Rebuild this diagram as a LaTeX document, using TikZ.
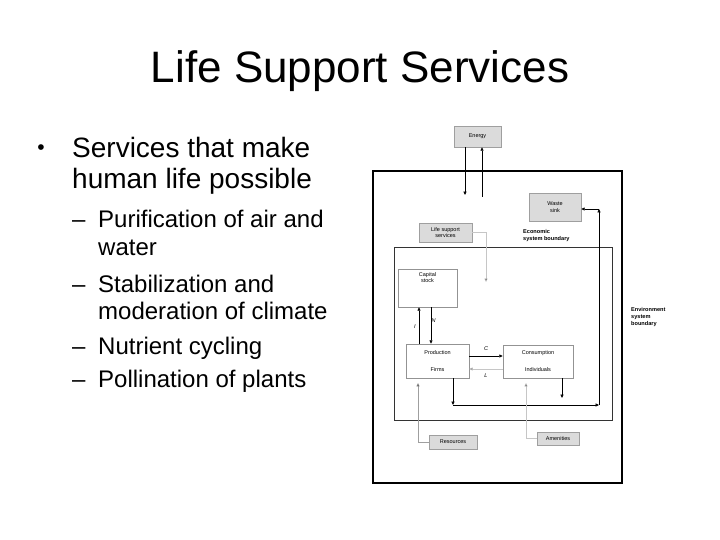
\documentclass[tikz,border=0pt]{standalone}
\usepackage{fontspec}
\setmainfont{Liberation Sans}
\usetikzlibrary{arrows.meta}
\tikzset{
  gbox/.style={draw=gray!75, line width=0.6pt, fill=gray!28, inner sep=0pt, font=\fontsize{5.5}{6.6}\selectfont, align=center},
  wbox/.style={draw=gray!85, line width=0.6pt, fill=white, inner sep=0pt},
  lbl/.style={font=\fontsize{5.5}{6.6}\selectfont, inner sep=0pt, align=center},
  conn/.style={line width=0.6pt, -{Triangle[length=3.4pt,width=3pt]}},
  lconn/.style={conn, draw=gray!45, -{Triangle[length=3.4pt,width=3pt,fill=black]}},
  mconn/.style={conn, draw=gray!75},
  lvlone/.style={anchor=base west, inner sep=0pt, font=\fontsize{28}{32}\selectfont},
  lvltwo/.style={anchor=base west, inner sep=0pt, font=\fontsize{24}{28}\selectfont},
}
\begin{document}
\begin{tikzpicture}[x=1pt, y=-1pt]
\useasboundingbox (0,0) rectangle (720,540);
\fill[white] (0,0) rectangle (720,540);

% title
\node[anchor=base, inner sep=0pt, font=\fontsize{44}{50}\selectfont] (title) at (360,83) {Life Support Services};

% bullets
\node[anchor=base, inner sep=0pt, font=\fontsize{21}{24}\selectfont] (b1) at (41,155) {•};
\node[lvlone] (t1a) at (72,158) {Services that make};
\node[lvlone] (t1b) at (72,189) {human life possible};
\node[lvltwo] (d1) at (72,227) {–};
\node[lvltwo] (s1a) at (98,227) {Purification of air and};
\node[lvltwo] (s1b) at (98,255) {water};
\node[lvltwo] (d2) at (72,292) {–};
\node[lvltwo] (s2a) at (98,292) {Stabilization and};
\node[lvltwo] (s2b) at (98,319) {moderation of climate};
\node[lvltwo] (d3) at (72,354) {–};
\node[lvltwo] (s3) at (98,354) {Nutrient cycling};
\node[lvltwo] (d4) at (72,387) {–};
\node[lvltwo] (s4) at (98,387) {Pollination of plants};

% boundaries
\draw[line width=1.3pt] (373,171) rectangle (622,483);
\draw[line width=0.8pt, black!80] (394,247) rectangle (612,420);

% boxes
\node[gbox, minimum width=47, minimum height=21] (energy) at (477.5,136.5) {Energy};
\node[gbox, minimum width=52, minimum height=28] (waste) at (555,207) {Waste\\sink};
\node[gbox, minimum width=53, minimum height=19] (life) at (445.5,232.5) {Life support\\services};
\node[gbox, minimum width=48, minimum height=14] (res) at (453,442) {Resources};
\node[gbox, minimum width=42, minimum height=13] (amen) at (558,438.5) {Amenities};

\node[wbox, minimum width=59, minimum height=38] (cap) at (427.5,288) {};
\node[lbl, anchor=north] (captxt) at (427.5,272) {Capital\\stock};
\node[wbox, minimum width=63, minimum height=34] (prod) at (437.5,361) {};
\node[lbl] (prodt) at (437.5,353) {Production};
\node[lbl] (firmt) at (437.5,370) {Firms};
\node[wbox, minimum width=70, minimum height=33] (cons) at (538,361.5) {};
\node[lbl] (const) at (538,353) {Consumption};
\node[lbl] (indt) at (538,370) {Individuals};

% labels
\node[lbl, anchor=west, align=left, font=\fontsize{5.6}{7}\selectfont\bfseries] (ecob) at (523,236) {Economic\\system boundary};
\node[lbl, anchor=west, align=left, font=\fontsize{5.6}{7}\selectfont\bfseries] (envt) at (631,317) {Environment\\system\\boundary};

% coordinates
\coordinate (edn) at (465,195);
\coordinate (eup) at (482,197);
\coordinate (bl) at (453,405);
\coordinate (br) at (599,405);
\coordinate (tr) at (599,209);
\coordinate (cd) at (562,398);
\coordinate (lsd) at (486,282);
\coordinate (rsu) at (418,383);
\coordinate (amu) at (526,383);
\coordinate (iy) at (419,0);
\coordinate (ny) at (431,0);
\coordinate (cy) at (0,356);
\coordinate (ly) at (0,369);

% connectors
\draw[conn] (energy.south -| edn) -- (edn);
\draw[conn] (eup) -- (eup |- energy.south);
\draw[conn] (prod.south -| bl) -- (bl);
\draw[conn] (bl) -- (br);
\draw[conn] (br) -- (tr);
\draw[conn] (tr) -- (tr -| waste.east);
\draw[conn] (cons.south -| cd) -- (cd);
\draw[conn] (prod.north -| iy) -- (cap.south -| iy);
\draw[conn] (cap.south -| ny) -- (prod.north -| ny);
\draw[conn] (prod.east |- cy) -- (cons.west |- cy);
\draw[lconn] (cons.west |- ly) -- (prod.east |- ly);
\draw[lconn] (life.east) -| (lsd);
\draw[mconn, -{Triangle[length=3.4pt,width=3pt,fill=black]}] (res.west) -| (rsu);
\draw[lconn] (amen.west) -| (amu);

\node[lbl, font=\fontsize{5.5}{6.6}\selectfont\itshape] (il) at (415,327) {I};
\node[lbl, font=\fontsize{5.5}{6.6}\selectfont\itshape] (nl) at (433.5,321) {N};
\node[lbl, font=\fontsize{5.5}{6.6}\selectfont\itshape] (cl) at (486,349) {C};
\node[lbl, font=\fontsize{5.5}{6.6}\selectfont\itshape] (ll) at (486,375.5) {L};
\end{tikzpicture}
\end{document}
